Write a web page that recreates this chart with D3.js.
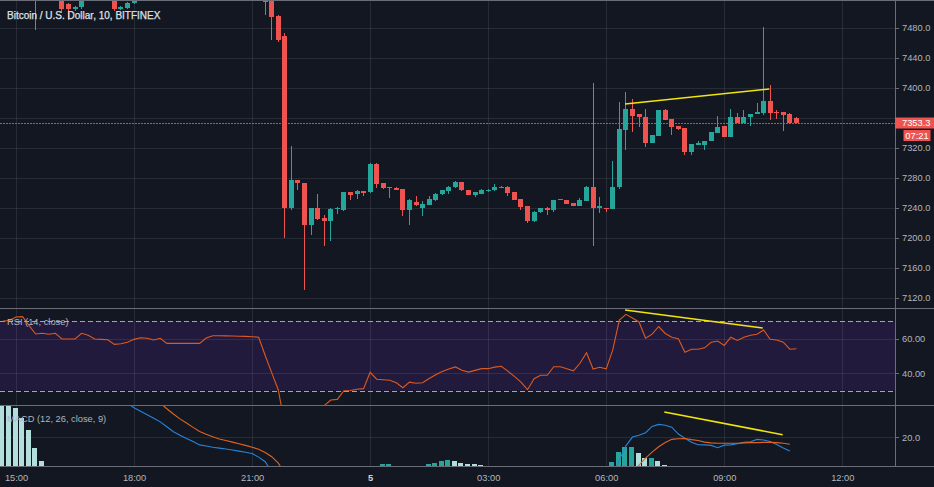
<!DOCTYPE html>
<html><head><meta charset="utf-8">
<script src="https://cdn.jsdelivr.net/npm/d3@7"></script>
<style>
html,body{margin:0;padding:0;background:#131722;}
svg{display:block;}
text{font-family:"Liberation Sans",Arial,sans-serif;}
</style></head><body>
<svg id="c" width="934" height="487"></svg>
<script>
// ---------- DATA ----------
const title = "Bitcoin / U.S. Dollar, 10, BITFINEX";
const rsiLabel = "RSI (14, close)";
const macdLabel = "MACD (12, 26, close, 9)";
const firstBar = "2019-12-04T14:40Z";   // 10-minute bars
const barMinutes = 10;

const open = [7540,7545,7550,7544,7536,7530,7524,7530,7526,7522,7512,7506,7508,7522,7528,7530,7526,7524,7506,7506.3,7513.3,7524,7528,7532,7530,7534,7532,7528,7531,7534,7536,7538,7535,7537,7536,7534,7537,7535,7536,7535,7530,7518,7496,7469,
7240,7277,7273,7217.3,7240,7226.7,7222.7,7238.7,7237.3,7261.3,7258.7,7262.7,7261.3,7298.7,7273,7266.3,7267,7265,7237.7,7248.4,7240,7244.4,7251,7258.2,7262.3,7267.6,7274.7,7264,7257.7,7259.1,7263.1,7263.6,7267.1,7268.4,7261,7252,7242.7,7222.2,7234.3,7240.4,7237.7,7250.7,7250.7,7246.2,7243,7249.7,7268.4,7239.6,7240,7238.7,7267.6,7344,7371.6,7365.3,7361,7327.1,7336.4,7370.7,7358.2,7349.3,7346.7,7314.7,7324.4,7324,7329.3,7340.4,7349.3,7335.1,7361,7353.7,7361.8,7365.6,7367.1,7382.7,7368,7367.6,7365.8,7360.4];
const high = [7552,7556,7560,7550,7545,7540,7534,7538,7532,7528,7514,7510,7526,7532,7536,7535,7532,7528,7509,7515,7528,7532,7536,7540,7538,7540,7538,7535,7538,7542,7544,7545,7542,7544,7542,7541,7543,7542,7542,7541,7532,7520,7497.5,7473,
7322.7,7278,7274,7240.5,7258.7,7230.7,7239.5,7241.3,7262,7262,7263.5,7263.3,7300,7299.5,7273.7,7268.5,7268,7266,7251.5,7256,7249.3,7256,7259.8,7264.4,7269,7275.5,7275.3,7264.6,7261.6,7264.7,7265,7272.4,7269,7269,7261.6,7252.6,7243.3,7235.7,7240.6,7241,7251.3,7252.6,7251.3,7246.8,7253,7269,7406.7,7255,7240.6,7302.7,7381.7,7394.7,7385,7365.9,7371.6,7337.6,7371.3,7372,7358.8,7349.9,7347.3,7325.9,7329.7,7329.9,7341.9,7362.7,7349.9,7372,7367,7370.7,7365.6,7379.6,7481.3,7404,7370.7,7368.2,7366.4,7361];
const low = [7532,7538,7540,7530,7525,7477,7520,7522,7518,7500,7491,7503,7506,7519,7522,7521,7520,7503,7504,7505,7512,7520,7523,7526,7524,7528,7525,7522,7526,7529,7531,7532,7530,7532,7530,7529,7531,7530,7531,7528,7497,7464,7461,7200,
7238,7264,7130.7,7204,7224,7189.3,7196,7232,7236.5,7250.7,7252,7256,7260.5,7267,7266,7253.7,7263.5,7230,7217.7,7243,7229.3,7243.5,7250,7257.5,7258.7,7267,7262.7,7257,7254.2,7258.5,7262,7263,7266.5,7256,7250.3,7237,7220.4,7221.6,7233.7,7231,7234.2,7250.1,7245,7242.4,7242.4,7249.1,7189.7,7234,7235,7238.1,7266,7317.3,7341,7348.4,7321,7326.5,7335.8,7356.7,7338,7343.6,7311,7310.2,7323.8,7317.3,7328.7,7339.8,7334.5,7334.5,7352.7,7353.1,7349.3,7365,7364,7357.3,7358.2,7343,7352.4,7352.7];
const close = [7545,7550,7544,7536,7530,7524,7530,7526,7522,7505,7506,7508,7522,7528,7530,7526,7524,7505,7507.5,7513,7524,7528,7532,7530,7534,7532,7528,7531,7534,7536,7538,7535,7537,7536,7534,7537,7535,7536,7535,7530,7515,7494.7,7464,7240,
7277.3,7273,7217.3,7240,7225.3,7222.7,7238.7,7240,7261.3,7257.3,7262.7,7260,7298.7,7272,7266.7,7267.6,7264.4,7237.7,7250.7,7243.6,7245.7,7252,7259,7263.6,7268.4,7274.7,7264.4,7257.7,7261,7264,7264.4,7267.6,7268.4,7260.4,7251,7241.7,7222.2,7235.1,7240,7237.7,7250.7,7252,7245.8,7243,7250.7,7268.4,7239.6,7242.7,7238.7,7268.4,7345.7,7371.6,7362.7,7361,7327.1,7337,7370.7,7357.3,7348.4,7345.7,7314.7,7325.3,7326.3,7329.3,7341.3,7347.6,7335.1,7361,7353.3,7361.8,7365,7368.4,7382.7,7367.1,7366.7,7364.4,7353,7353.3];

const rsi = [70.2,70.5,72.5,72.7,67.5,62.7,63.1,62.5,63.1,59.8,59.8,59.8,63.1,62.0,59.8,59.6,59.4,56.7,57.1,57.9,59.6,60.5,60.2,59.2,60.2,57.3,57.3,57.3,57.3,57.3,57.3,60.4,61.7,61.7,61.6,61.5,61.4,61.3,61.1,60.8,50.3,40.3,30.4,10,
19.5,19.0,13.0,16.0,15.5,21.4,24.6,25.0,30.0,30.1,30.8,31.2,40.6,36.6,36.3,36.0,34.6,31.7,34.9,34.3,34.6,37.0,39.2,41.1,42.5,43.7,41.8,40.7,41.7,42.7,42.7,43.6,44.1,41.3,38.3,35.0,30.6,36.9,38.9,38.9,43.8,43.8,42.7,41.5,45.8,51.9,42.5,43.5,42.6,53.5,70.7,74.0,71.9,69.6,60.2,62.6,67.0,63.0,60.8,60.0,52.2,53.9,53.9,54.7,57.9,58.6,56.1,60.8,59.0,60.8,62.0,62.5,65.0,59.6,59.2,58.0,53.9,54.2];

// MACD values (null = off the visible range, not readable)
const macd = [null,null,null,null,null,null,null,null,null,null,null,null,null,null,null,null,null,null,37.0,34.8,32.8,31.3,29.8,28.3,26.7,24.6,22.4,20.9,19.5,18.2,16.7,16.2,15.7,15.3,14.9,14.5,14.0,13.5,13.0,11.4,9.4,5.0,null,null,
null,null,null,null,null,null,null,null,null,null,null,null,null,null,null,null,null,null,null,null,null,null,null,null,null,null,null,null,null,null,null,null,null,null,null,null,null,null,null,null,null,null,null,null,null,null,null,null,null,3.8,10.2,16.3,20.1,20.9,22.0,24.7,25.6,25.2,24.4,21.4,19.6,17.9,16.8,16.7,16.5,15.5,16.6,16.7,17.2,17.8,18.1,19.1,18.8,18.2,16.9,15.4,14.1];
const signal = [null,null,null,null,null,null,null,null,null,null,null,null,null,null,null,null,null,null,null,null,null,null,null,37.2,34.8,32.4,30.1,28.0,26.2,24.3,22.5,21.3,20.2,19.3,18.6,17.9,17.2,16.5,15.7,14.8,13.4,11.6,8.8,4.0,
null,null,null,null,null,null,null,null,null,null,null,null,null,null,null,null,null,null,null,null,null,null,null,null,null,null,null,null,null,null,null,null,null,null,null,null,null,null,null,null,null,null,null,null,null,null,null,null,null,null,null,null,4.8,7.9,11.0,13.6,15.9,17.7,19.1,19.4,19.5,19.0,18.6,17.9,17.6,17.4,17.4,17.4,17.4,17.6,17.7,17.7,17.8,17.8,17.7,17.4,17.0];
const hist = [36.0,35.5,32.6,28.4,23.2,15.2,9.7,null,null,null,null,null,null,null,null,null,null,null,null,null,null,null,null,null,null,null,null,null,null,null,null,null,null,null,null,null,null,null,null,null,null,null,null,null,
null,null,null,null,null,null,null,null,null,null,null,null,null,7.2,8.3,8.5,null,null,null,null,7.4,8.3,9.0,9.7,10.3,9.7,8.9,8.4,8.3,7.9,null,null,null,null,null,null,null,null,null,null,null,null,null,null,null,null,null,null,6.0,9.2,13.8,15.9,16.0,13.1,11.1,11.2,9.7,7.9,5.3,null,null,null,null,null,null,null,null,null,null,null,null,null,null,null,null,null,null];

const priceTicks = [7120,7160,7200,7240,7280,7320,7360,7400,7440,7480];
const rsiTicks = [40,60];
const rsiBands = [30,70];
const macdTicks = [20];
const timeTicks = ["2019-12-04T15:00Z","2019-12-04T18:00Z","2019-12-04T21:00Z","2019-12-05T00:00Z","2019-12-05T03:00Z","2019-12-05T06:00Z","2019-12-05T09:00Z","2019-12-05T12:00Z"];
const timeTickLabels = ["15:00","18:00","21:00","5","03:00","06:00","09:00","12:00"];
const lastPrice = 7353.3;
const countdown = "07:21";
// trend-line drawings (time, value)
const priceTrend = [["2019-12-05T06:28:42Z",7378.7],["2019-12-05T10:08:42Z",7398.7]];
const rsiTrend = [["2019-12-05T06:28:42Z",76.5],["2019-12-05T09:58:36Z",66.1]];
const macdTrend = [["2019-12-05T07:28:36Z",31.0],["2019-12-05T10:29:06Z",21.1]];

// ---------- LAYOUT ----------
const W = 934, H = 487, PR = 895;
const mainTop = 0, mainBot = 308, rsiBot = 405, macdBot = 466;
const UP = "#26a69a", DOWN = "#ef5350", UPL = "#b2dfdb";
const GRID = "rgba(255,255,255,0.085)";
const AXT = "#b2b5be";

const pT = d3.isoParse;
const t0 = pT(firstBar).getTime();
const bars = open.map((o,k)=>({t:new Date(t0 + k*barMinutes*60000), o, h:high[k], l:low[k], c:close[k], rsi:rsi[k], macd:macd[k], sig:signal[k], hist:hist[k]}));

const x = d3.scaleUtc().domain([pT("2019-12-04T15:00Z"), pT("2019-12-05T12:00Z")]).range([16, 842.3]);
const yP = d3.scaleLinear().domain([7120,7480]).range([298,28]);
const yR = d3.scaleLinear().domain([30,70]).range([390.7,321.3]);
const yM = d3.scaleLinear().domain([0,20]).range([483.4,437.3]);

const svg = d3.select("#c");
svg.append("rect").attr("width",W).attr("height",H).attr("fill","#131722");
const defs = svg.append("defs");
function clip(id,y0,y1){defs.append("clipPath").attr("id",id).append("rect").attr("x",0).attr("y",y0).attr("width",PR).attr("height",y1-y0);}
clip("cm",mainTop,mainBot); clip("cr",mainBot+0.5,rsiBot); clip("cd",rsiBot+0.5,macdBot);

// RSI band
svg.append("rect").attr("x",0).attr("width",PR).attr("y",yR(70)).attr("height",yR(30)-yR(70)).attr("fill","#221a3c");

// grids
const grid = svg.append("g").attr("stroke",GRID).attr("stroke-width",1).attr("shape-rendering","crispEdges");
grid.selectAll("line.v").data(timeTicks).join("line").attr("x1",d=>Math.round(x(pT(d)))+0.5).attr("x2",d=>Math.round(x(pT(d)))+0.5).attr("y1",0).attr("y2",macdBot);
grid.selectAll("line.hp").data(priceTicks).join("line").attr("x1",0).attr("x2",PR).attr("y1",d=>Math.round(yP(d))+0.5).attr("y2",d=>Math.round(yP(d))+0.5);
grid.selectAll("line.hr").data(rsiTicks).join("line").attr("x1",0).attr("x2",PR).attr("y1",d=>Math.round(yR(d))+0.5).attr("y2",d=>Math.round(yR(d))+0.5);
grid.selectAll("line.hm").data(macdTicks).join("line").attr("x1",0).attr("x2",PR).attr("y1",d=>Math.round(yM(d))+0.5).attr("y2",d=>Math.round(yM(d))+0.5);

// RSI band dashed lines
svg.append("g").selectAll("line").data(rsiBands).join("line")
  .attr("x1",0).attr("x2",PR).attr("y1",d=>Math.round(yR(d))+0.5).attr("y2",d=>Math.round(yR(d))+0.5)
  .attr("stroke","#a3a6af").attr("stroke-dasharray","5,3").attr("shape-rendering","crispEdges");

// candles
const cg = svg.append("g").attr("clip-path","url(#cm)").attr("shape-rendering","crispEdges");
const bw = 5;
const cs = cg.selectAll("g").data(bars).join("g");
cs.append("rect").attr("x",d=>Math.round(x(d.t)-2.5)+2).attr("width",1)
  .attr("y",d=>yP(d.h)).attr("height",d=>Math.max(1,yP(d.l)-yP(d.h)))
  .attr("fill",d=>d.c>=d.o?UP:DOWN);
cs.append("rect").attr("x",d=>Math.round(x(d.t)-2.5)).attr("width",bw)
  .attr("y",d=>yP(Math.max(d.o,d.c))).attr("height",d=>Math.max(1,Math.abs(yP(d.o)-yP(d.c))))
  .attr("fill",d=>d.c>=d.o?UP:DOWN);

// last price dotted line
svg.append("line").attr("x1",0).attr("x2",PR).attr("y1",Math.round(yP(lastPrice))+0.5).attr("y2",Math.round(yP(lastPrice))+0.5)
  .attr("stroke",DOWN).attr("stroke-opacity",0.85).attr("stroke-dasharray","2,1").attr("shape-rendering","crispEdges");

// RSI line
svg.append("path").datum(bars).attr("clip-path","url(#cr)")
  .attr("d",d3.line().x(d=>x(d.t)).y(d=>yR(d.rsi)))
  .attr("fill","none").attr("stroke","#dc5a1f").attr("stroke-width",1.1);

// MACD histogram
const hg = svg.append("g").attr("clip-path","url(#cd)").attr("shape-rendering","crispEdges");
hg.selectAll("rect").data(bars.map((d,k)=>({d,k})).filter(o=>o.d.hist!=null)).join("rect")
  .attr("x",o=>Math.round(x(o.d.t)-3.5)).attr("width",5)
  .attr("y",o=>yM(o.d.hist)).attr("height",o=>yM(0)-yM(o.d.hist))
  .attr("fill",o=>{const p=o.k>0?bars[o.k-1].hist:null; return (p!=null && o.d.hist>p)?UP:UPL;});
// MACD & signal lines
const cd = svg.append("g").attr("clip-path","url(#cd)");
cd.append("path").datum(bars).attr("d",d3.line().defined(d=>d.macd!=null).x(d=>x(d.t)).y(d=>yM(d.macd)))
  .attr("fill","none").attr("stroke","#2784d8").attr("stroke-width",1.1);
cd.append("path").datum(bars).attr("d",d3.line().defined(d=>d.sig!=null).x(d=>x(d.t)).y(d=>yM(d.sig)))
  .attr("fill","none").attr("stroke","#e2631d").attr("stroke-width",1.1);

// trend lines
function trend(pts, ys, cl){
  svg.append("line").attr("clip-path",`url(#${cl})`)
   .attr("x1",x(pT(pts[0][0]))).attr("y1",ys(pts[0][1])).attr("x2",x(pT(pts[1][0]))).attr("y2",ys(pts[1][1]))
   .attr("stroke","#f2e50b").attr("stroke-width",1.6);
}
trend(priceTrend,yP,"cm"); trend(rsiTrend,yR,"cr"); trend(macdTrend,yM,"cd");

// separators & borders
const sep = svg.append("g").attr("stroke","#6b6e78").attr("shape-rendering","crispEdges");
[0,mainBot,rsiBot,macdBot].forEach(v=>sep.append("line").attr("x1",0).attr("x2",W).attr("y1",v+0.5).attr("y2",v+0.5));
sep.append("line").attr("x1",PR+0.5).attr("x2",PR+0.5).attr("y1",0).attr("y2",macdBot);

// labels
svg.append("text").attr("x",7).attr("y",18.5).attr("fill","#dfe1e7").attr("font-size",10).attr("stroke","#dfe1e7").attr("stroke-width",0.25).text(title);
svg.append("text").attr("x",7).attr("y",324.5).attr("fill",AXT).attr("font-size",9.3).text(rsiLabel);
svg.append("text").attr("x",7).attr("y",421.5).attr("fill",AXT).attr("font-size",9.3).text(macdLabel);

// axes (price labels hidden where the last-price label covers them)
const yl = yP(lastPrice);
function styleAxis(g){
  g.select(".domain").remove();
  g.selectAll(".tick line").attr("stroke","#6b6e78").attr("shape-rendering","crispEdges");
  g.selectAll(".tick text").attr("fill",AXT).attr("font-size",9.3).attr("font-family","Liberation Sans, Arial, sans-serif");
}
svg.append("g").attr("transform",`translate(${PR},0)`)
  .call(d3.axisRight(yP).tickValues(priceTicks).tickFormat(d=>Math.abs(yP(d)-yl)<10?"":d3.format(".1f")(d)).tickSize(4).tickPadding(3)).call(styleAxis);
svg.append("g").attr("transform",`translate(${PR},0)`).call(d3.axisRight(yR).tickValues(rsiTicks).tickFormat(d3.format(".2f")).tickSize(4).tickPadding(3)).call(styleAxis);
svg.append("g").attr("transform",`translate(${PR},0)`).call(d3.axisRight(yM).tickValues(macdTicks).tickFormat(d3.format(".1f")).tickSize(4).tickPadding(3)).call(styleAxis);
const xa = svg.append("g").attr("transform",`translate(0,${macdBot})`)
  .call(d3.axisBottom(x).tickValues(timeTicks.map(pT)).tickFormat((d,i)=>timeTickLabels[i]).tickSize(0).tickPadding(8)).call(styleAxis);
xa.selectAll(".tick text").filter((d,i)=>timeTickLabels[i]==="5").attr("font-weight","bold").attr("fill","#d1d4dc");

// last price label
svg.append("rect").attr("x",PR).attr("y",yl-5.5).attr("width",W-PR).attr("height",11).attr("fill",DOWN);
svg.append("text").attr("x",902).attr("y",yl+3.3).attr("fill","#ffffff").attr("font-size",9.3).text(d3.format(".1f")(lastPrice));
svg.append("rect").attr("x",903.5).attr("y",yl+7).attr("width",27).attr("height",11).attr("fill",DOWN);
svg.append("text").attr("x",917).attr("y",yl+15.8).attr("text-anchor","middle").attr("fill","#ffffff").attr("font-size",9.3).text(countdown);
</script>
</body></html>
